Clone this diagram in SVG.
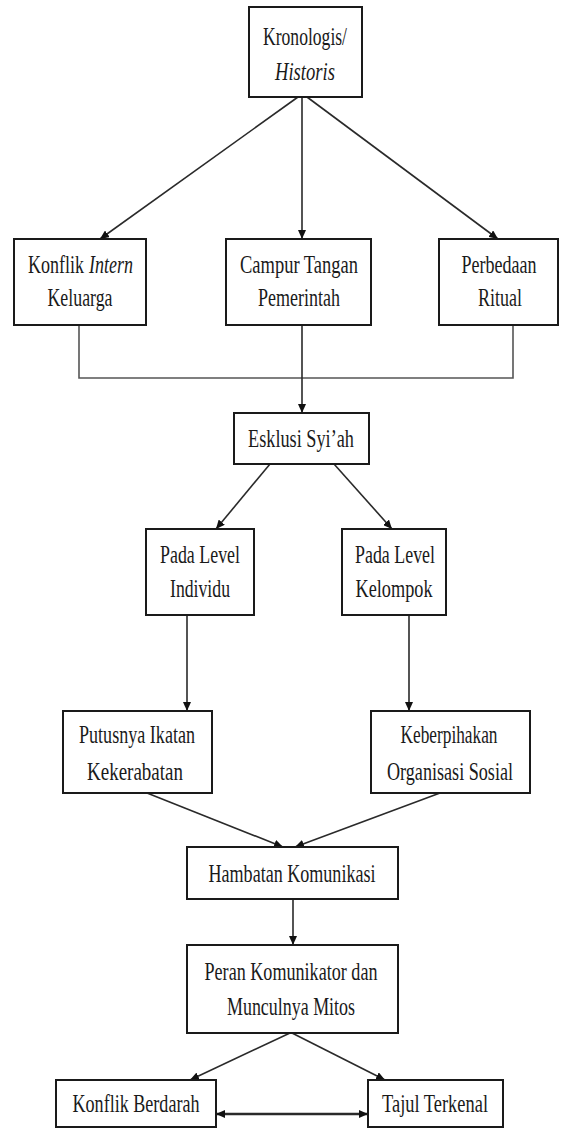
<svg xmlns="http://www.w3.org/2000/svg" width="562" height="1128" viewBox="0 0 562 1128">
<style>
.box{fill:#fff;stroke:#1a1a1a;stroke-width:2}
.t{font-family:"Liberation Serif","Times New Roman",serif;font-size:26px;fill:#1a1a1a;text-anchor:middle}
.s{text-anchor:start}
.i{font-style:italic}
.c{fill:none;stroke:#2a2a2a;stroke-width:1.6}
.a{marker-end:url(#ah)}
.g{fill:none;stroke:#555;stroke-width:1.6}
</style>
<defs>
<marker id="ah" markerUnits="userSpaceOnUse" markerWidth="9" markerHeight="8" refX="9" refY="4" orient="auto-start-reverse">
<path d="M0,0 L9,4 L0,8 z" fill="#111"/>
</marker>
</defs>
<rect width="562" height="1128" fill="#fff"/>
<g id="connectors">
<line class="c a" x1="298" y1="97" x2="100" y2="239"/>
<line class="c a" x1="302" y1="97" x2="302" y2="239"/>
<line class="c a" x1="307" y1="97" x2="498" y2="239"/>
<polyline class="g" points="79,325 79,378 513,378 513,325"/>
<line class="c a" x1="302" y1="325" x2="302" y2="413"/>
<line class="c a" x1="270" y1="464" x2="216" y2="529"/>
<line class="c a" x1="334" y1="464" x2="392" y2="529"/>
<line class="c a" x1="187" y1="615" x2="187" y2="711"/>
<line class="c a" x1="409" y1="615" x2="409" y2="711"/>
<line class="c a" x1="147" y1="793" x2="283" y2="847"/>
<line class="c a" x1="440" y1="793" x2="295" y2="847"/>
<line class="c a" x1="293" y1="899" x2="293" y2="945"/>
<line class="c a" x1="290" y1="1033" x2="190" y2="1080"/>
<line class="c a" x1="292" y1="1033" x2="385" y2="1080"/>
<line class="c a" x1="216" y1="1114" x2="368" y2="1114" style="stroke-width:2.4;marker-start:url(#ah)"/>
</g>
<g id="kronologis">
<rect class="box" x="249" y="7" width="113" height="90"/>
<text class="t" x="305" y="45" textLength="84" lengthAdjust="spacingAndGlyphs">Kronologis/</text>
<text class="t i" x="305" y="80" textLength="60" lengthAdjust="spacingAndGlyphs">Historis</text>
</g>
<g id="konflik-intern">
<rect class="box" x="14" y="239" width="132" height="86"/>
<text class="t s" x="28" y="273" textLength="56" lengthAdjust="spacingAndGlyphs">Konflik</text>
<text class="t s i" x="89" y="273" textLength="44" lengthAdjust="spacingAndGlyphs">Intern</text>
<text class="t" x="80" y="306" textLength="65" lengthAdjust="spacingAndGlyphs">Keluarga</text>
</g>
<g id="campur-tangan">
<rect class="box" x="226" y="239" width="145" height="86"/>
<text class="t" x="299" y="273" textLength="118" lengthAdjust="spacingAndGlyphs">Campur Tangan</text>
<text class="t" x="299" y="306" textLength="82" lengthAdjust="spacingAndGlyphs">Pemerintah</text>
</g>
<g id="perbedaan-ritual">
<rect class="box" x="439" y="239" width="119" height="86"/>
<text class="t" x="499" y="273" textLength="75" lengthAdjust="spacingAndGlyphs">Perbedaan</text>
<text class="t" x="500" y="306" textLength="44" lengthAdjust="spacingAndGlyphs">Ritual</text>
</g>
<g id="esklusi">
<rect class="box" x="234" y="413" width="135" height="51"/>
<text class="t" x="301" y="447" textLength="106" lengthAdjust="spacingAndGlyphs">Esklusi Syi’ah</text>
</g>
<g id="level-individu">
<rect class="box" x="146" y="529" width="108" height="86"/>
<text class="t" x="200" y="563" textLength="80" lengthAdjust="spacingAndGlyphs">Pada Level</text>
<text class="t" x="200" y="597" textLength="60" lengthAdjust="spacingAndGlyphs">Individu</text>
</g>
<g id="level-kelompok">
<rect class="box" x="342" y="529" width="104" height="86"/>
<text class="t" x="395" y="563" textLength="80" lengthAdjust="spacingAndGlyphs">Pada Level</text>
<text class="t" x="394" y="597" textLength="77" lengthAdjust="spacingAndGlyphs">Kelompok</text>
</g>
<g id="putusnya">
<rect class="box" x="63" y="711" width="149" height="82"/>
<text class="t" x="137" y="743" textLength="116" lengthAdjust="spacingAndGlyphs">Putusnya Ikatan</text>
<text class="t" x="135" y="780" textLength="96" lengthAdjust="spacingAndGlyphs">Kekerabatan</text>
</g>
<g id="keberpihakan">
<rect class="box" x="371" y="711" width="159" height="82"/>
<text class="t" x="449" y="743" textLength="97" lengthAdjust="spacingAndGlyphs">Keberpihakan</text>
<text class="t" x="450" y="780" textLength="126" lengthAdjust="spacingAndGlyphs">Organisasi Sosial</text>
</g>
<g id="hambatan">
<rect class="box" x="187" y="847" width="211" height="52"/>
<text class="t" x="292" y="882" textLength="167" lengthAdjust="spacingAndGlyphs">Hambatan Komunikasi</text>
</g>
<g id="peran">
<rect class="box" x="187" y="945" width="211" height="88"/>
<text class="t" x="291" y="980" textLength="173" lengthAdjust="spacingAndGlyphs">Peran Komunikator dan</text>
<text class="t" x="291" y="1015" textLength="128" lengthAdjust="spacingAndGlyphs">Munculnya Mitos</text>
</g>
<g id="konflik-berdarah">
<rect class="box" x="56" y="1080" width="160" height="47"/>
<text class="t" x="136" y="1112" textLength="127" lengthAdjust="spacingAndGlyphs">Konflik Berdarah</text>
</g>
<g id="tajul">
<rect class="box" x="368" y="1080" width="135" height="47"/>
<text class="t" x="435" y="1112" textLength="106" lengthAdjust="spacingAndGlyphs">Tajul Terkenal</text>
</g>
</svg>
